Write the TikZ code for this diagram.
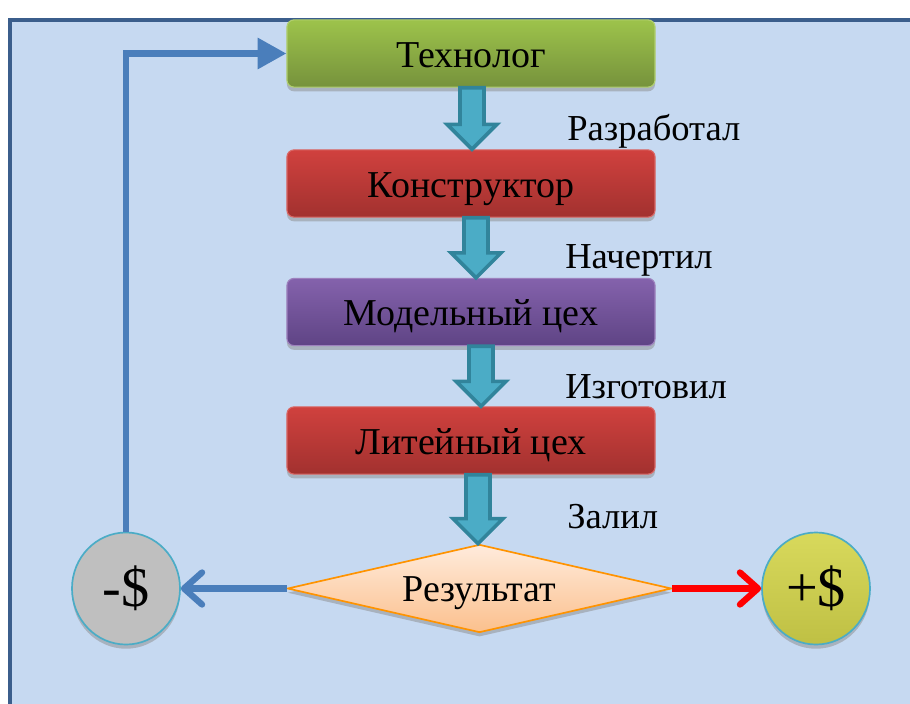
\documentclass[tikz,border=0pt]{standalone}
\usepackage{fontspec}
\setmainfont{Liberation Serif}
\usetikzlibrary{positioning,calc,shapes.geometric,shadows,arrows.meta}

\definecolor{bgblue}{HTML}{C6D9F1}
\definecolor{frameblue}{HTML}{3B5E8C}
\definecolor{lineblue}{HTML}{4A7EBB}
\definecolor{arrteal}{HTML}{4BACC6}
\definecolor{arrdark}{HTML}{31849B}
\definecolor{greentop}{HTML}{9DC34B}
\definecolor{greenbot}{HTML}{76923C}
\definecolor{redtop}{HTML}{D0413E}
\definecolor{redbot}{HTML}{A2312F}
\definecolor{violtop}{HTML}{8462AC}
\definecolor{violbot}{HTML}{5F4485}
\definecolor{peachtop}{HTML}{FFEBDC}
\definecolor{peachbot}{HTML}{FBC08D}
\definecolor{olivetop}{HTML}{D8D95C}
\definecolor{olivebot}{HTML}{BFC044}

% block arrow from one node down to the next, #3 = x offset
\newcommand{\blkarrow}[3]{%
  \coordinate (t) at ($(#1.south)+(#3,0)$);
  \draw[blk] ($(t)+(-12,0)$) -- ($(t |- #2.north)+(-12,-25)$)
    -- ($(t |- #2.north)+(-25,-25)$) -- (t |- #2.north)
    -- ($(t |- #2.north)+(25,-25)$) -- ($(t |- #2.north)+(12,-25)$)
    -- ($(t)+(12,0)$) -- cycle;
}

\begin{document}
\begin{tikzpicture}[x=0.025cm, y=-0.025cm, font=\fontsize{26}{30}\selectfont,
  box/.style={rounded corners=5pt, minimum width=9.2cm, minimum height=1.68cm,
    inner sep=0pt, line width=0.8pt, text height=0.88cm, text depth=0.2cm,
    font=\fontsize{27}{30}\selectfont,
    drop shadow={shadow xshift=0pt, shadow yshift=-3pt, fill=black!45}},
  blk/.style={fill=arrteal, draw=arrdark, line width=2.6pt, line join=miter},
  lbl/.style={anchor=base west, inner sep=0pt},
  coin/.style={ellipse, minimum width=2.7cm, minimum height=2.8cm, draw=arrteal,
    line width=1.2pt, font=\fontsize{40}{44}\selectfont,
    drop shadow={shadow xshift=0pt, shadow yshift=-3pt, fill=black!45}},
  fb/.style={draw=lineblue, line width=4.5pt}]

  \useasboundingbox (0,0) rectangle (910,704);
  \clip (0,0) rectangle (910,704);

  % frame
  \draw[fill=bgblue, draw=frameblue, line width=0.1cm] (10,20) rectangle (940,740);

  % boxes
  \node[box, top color=greentop, bottom color=greenbot, draw=greentop!80!white]
    (tech) at (471,53.5) {Технолог};
  \node[box, top color=redtop, bottom color=redbot, draw=redtop!80!white]
    (konst) at (471,183.5) {Конструктор};
  \node[box, top color=violtop, bottom color=violbot, draw=violtop!80!white]
    (model) at (471,312) {Модельный цех};
  \node[box, top color=redtop, bottom color=redbot, draw=redtop!80!white]
    (lit) at (471,440.5) {Литейный цех};

  \node[diamond, aspect=4.4, minimum width=9.6cm, minimum height=2.2cm, inner sep=0pt,
    font=\fontsize{27}{30}\selectfont, text height=0.85cm, text depth=0.2cm,
    top color=peachtop, bottom color=peachbot, draw=orange!85!yellow,
    line width=1.2pt, drop shadow={shadow xshift=0pt, shadow yshift=-3pt, fill=black!45}]
    (res) at (479.5,588.5) {Результат};

  \node[coin, fill=black!25] (minus) at (126,588.5) {-\$};
  \node[coin, top color=olivetop, bottom color=olivebot] (plus) at (816,588.5) {+\$};

  % block arrows
  \blkarrow{tech}{konst}{1}
  \blkarrow{konst}{model}{5}
  \blkarrow{model}{lit}{10}
  \blkarrow{lit}{res}{7}

  % labels
  \node[lbl] (l1) at (567,140) {Разработал};
  \node[lbl] (l2) at (565,268) {Начертил};
  \node[lbl] (l3) at (565,398) {Изготовил};
  \node[lbl] (l4) at (567,528) {Залил};

  % outcomes
  \draw[fb, -{Straight Barb[length=0.45cm, width=0.8cm, round]}] (res.west) -- (minus.east);
  \draw[draw=red, line width=4.5pt, -{Straight Barb[length=0.45cm, width=0.8cm, round]}]
    (res.east) -- (plus.west);

  % feedback
  \draw[fb, -{Triangle[length=0.72cm, width=0.75cm]}] (minus.north) |- (tech.west);

\end{tikzpicture}
\end{document}
